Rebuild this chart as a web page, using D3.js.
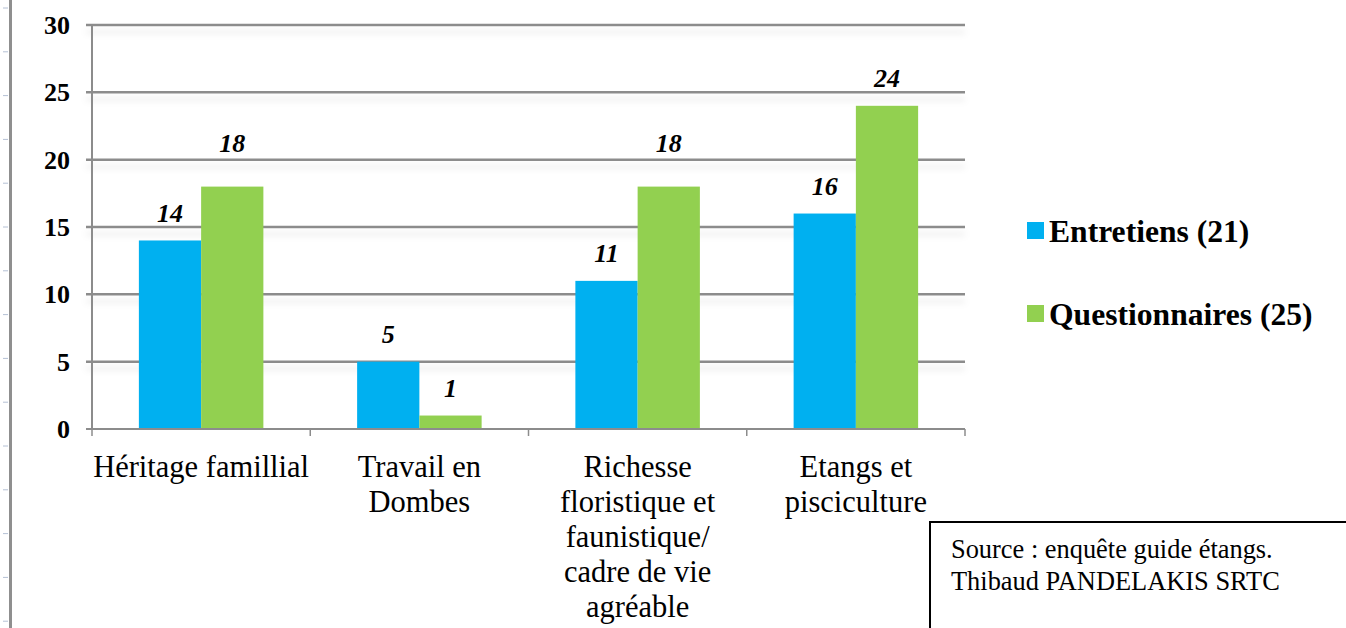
<!DOCTYPE html>
<html>
<head>
<meta charset="utf-8">
<script src="https://cdn.jsdelivr.net/npm/d3@7"></script>
<style>
  body { margin: 0; background: #fff; }
  svg { display: block; font-family: "Liberation Serif", "Times New Roman", serif; }
</style>
</head>
<body>
<svg id="chart" width="1346" height="628"></svg>
<script>
var categories = [
    ["Héritage famillial"],
    ["Travail en", "Dombes"],
    ["Richesse", "floristique et", "faunistique/", "cadre de vie", "agréable"],
    ["Etangs et", "pisciculture"]
];
var seriesNames = ["Entretiens (21)", "Questionnaires (25)"];
var entretiens = [14, 5, 11, 16];
var questionnaires = [18, 1, 18, 24];
var yTicks = [0, 5, 10, 15, 20, 25, 30];
var sourceLines = ["Source : enquête guide étangs.", "Thibaud PANDELAKIS SRTC"];

var blue = "#00b0f0";
var green = "#92d050";
var gridGray = "#8c8c8c";
var colors = [blue, green];
var values = [entretiens, questionnaires];

var svg = d3.select("#chart");
var catIdx = d3.range(categories.length);

var plotLeft = 92, plotRight = 965, plotTop = 25, plotBottom = 429;

var x0 = d3.scaleBand().domain(catIdx).range([plotLeft, plotRight]).padding(0);
var x1 = d3.scaleBand().domain([0, 1]).range([0, x0.bandwidth()])
    .paddingInner(0).paddingOuter(0.753);
var y = d3.scaleLinear().domain([0, 30]).range([plotBottom, plotTop]);

// shadow under gridlines
var defs = svg.append("defs");
var f = defs.append("filter").attr("id", "gridShadow")
    .attr("filterUnits", "userSpaceOnUse")
    .attr("x", 0).attr("y", 0).attr("width", 1346).attr("height", 628);
f.append("feDropShadow")
    .attr("dx", 0).attr("dy", 7).attr("stdDeviation", 3)
    .attr("flood-color", "#000").attr("flood-opacity", 0.1);

// left ruler
svg.append("line")
    .attr("x1", 10.5).attr("x2", 10.5).attr("y1", 0).attr("y2", 628)
    .style("stroke", "#8f8f8f").style("stroke-width", 3);
svg.selectAll(".rulerTick").data(d3.range(15)).enter().append("line")
    .attr("class", "rulerTick")
    .attr("x1", 3).attr("x2", 8)
    .attr("y1", function(d) { return 8 + d * 43.8; })
    .attr("y2", function(d) { return 8 + d * 43.8; })
    .style("stroke", "#b4c0d4").style("stroke-width", 1);

// gridlines
svg.selectAll(".grid").data(yTicks.filter(function(d) { return d > 0; })).enter().append("line")
    .attr("class", "grid")
    .attr("x1", plotLeft - 6).attr("x2", plotRight)
    .attr("y1", function(d) { return y(d); })
    .attr("y2", function(d) { return y(d); })
    .style("stroke", gridGray).style("stroke-width", 2.5)
    .attr("filter", "url(#gridShadow)");

// y axis
svg.append("line")
    .attr("x1", plotLeft).attr("x2", plotLeft).attr("y1", y(30)).attr("y2", plotBottom)
    .style("stroke", gridGray).style("stroke-width", 2);
svg.selectAll(".yLabel").data(yTicks).enter().append("text")
    .attr("class", "yLabel")
    .attr("x", 70)
    .attr("y", function(d) { return y(d); })
    .attr("dy", "0.35em")
    .attr("text-anchor", "end")
    .style("font-weight", "bold").style("font-size", "26px")
    .text(function(d) { return d; });

// bars
values.forEach(function(vals, s) {
    svg.selectAll(".bar" + s).data(vals).enter().append("rect")
        .attr("class", "bar" + s)
        .attr("x", function(d, i) { return x0(i) + x1(s); })
        .attr("y", function(d) { return y(d); })
        .attr("width", x1.bandwidth())
        .attr("height", function(d) { return plotBottom - y(d); })
        .style("fill", colors[s]);
});

// x axis
svg.append("line")
    .attr("x1", plotLeft - 6).attr("x2", plotRight).attr("y1", plotBottom).attr("y2", plotBottom)
    .style("stroke", gridGray).style("stroke-width", 2);
svg.selectAll(".xTick").data(d3.range(categories.length + 1)).enter().append("line")
    .attr("class", "xTick")
    .attr("x1", function(d) { return plotLeft + d * x0.step(); })
    .attr("x2", function(d) { return plotLeft + d * x0.step(); })
    .attr("y1", plotBottom).attr("y2", plotBottom + 7)
    .style("stroke", gridGray).style("stroke-width", 1.5);

// value labels, pushed above a gridline when they would sit on it
function labelY(v) {
    var cy = y(v) - 28;
    yTicks.forEach(function(t) {
        if (Math.abs(y(t) - cy) < 10) cy = y(t) - 17;
    });
    return cy;
}
values.forEach(function(vals, s) {
    svg.selectAll(".val" + s).data(vals).enter().append("text")
        .attr("class", "val" + s)
        .attr("x", function(d, i) { return x0(i) + x1(s) + x1.bandwidth() / 2; })
        .attr("y", function(d) { return labelY(d); })
        .attr("dy", "0.35em")
        .attr("text-anchor", "middle")
        .style("font-weight", "bold").style("font-style", "italic").style("font-size", "26px")
        .text(function(d) { return d; });
});

// category labels
catIdx.forEach(function(i) {
    var t = svg.append("text")
        .attr("text-anchor", "middle")
        .style("font-size", "30.5px");
    categories[i].forEach(function(line, j) {
        t.append("tspan")
            .attr("x", x0(i) + x0.bandwidth() / 2)
            .attr("y", 477 + j * 35)
            .text(line);
    });
});

// legend
seriesNames.forEach(function(name, s) {
    var ly = 231 + s * 83;
    svg.append("rect")
        .attr("x", 1027).attr("y", ly - 9).attr("width", 17).attr("height", 17)
        .style("fill", colors[s]);
    svg.append("text")
        .attr("x", 1049).attr("y", ly + 11)
        .style("font-weight", "bold").style("font-size", "31.6px")
        .text(name);
});

// source box
svg.append("rect")
    .attr("x", 930).attr("y", 522).attr("width", 430).attr("height", 130)
    .style("fill", "#fff").style("stroke", "#000").style("stroke-width", 2);
sourceLines.forEach(function(line, j) {
    svg.append("text")
        .attr("x", 951).attr("y", 558 + j * 32)
        .style("font-size", "26.4px")
        .text(line);
});
</script>
</body>
</html>
